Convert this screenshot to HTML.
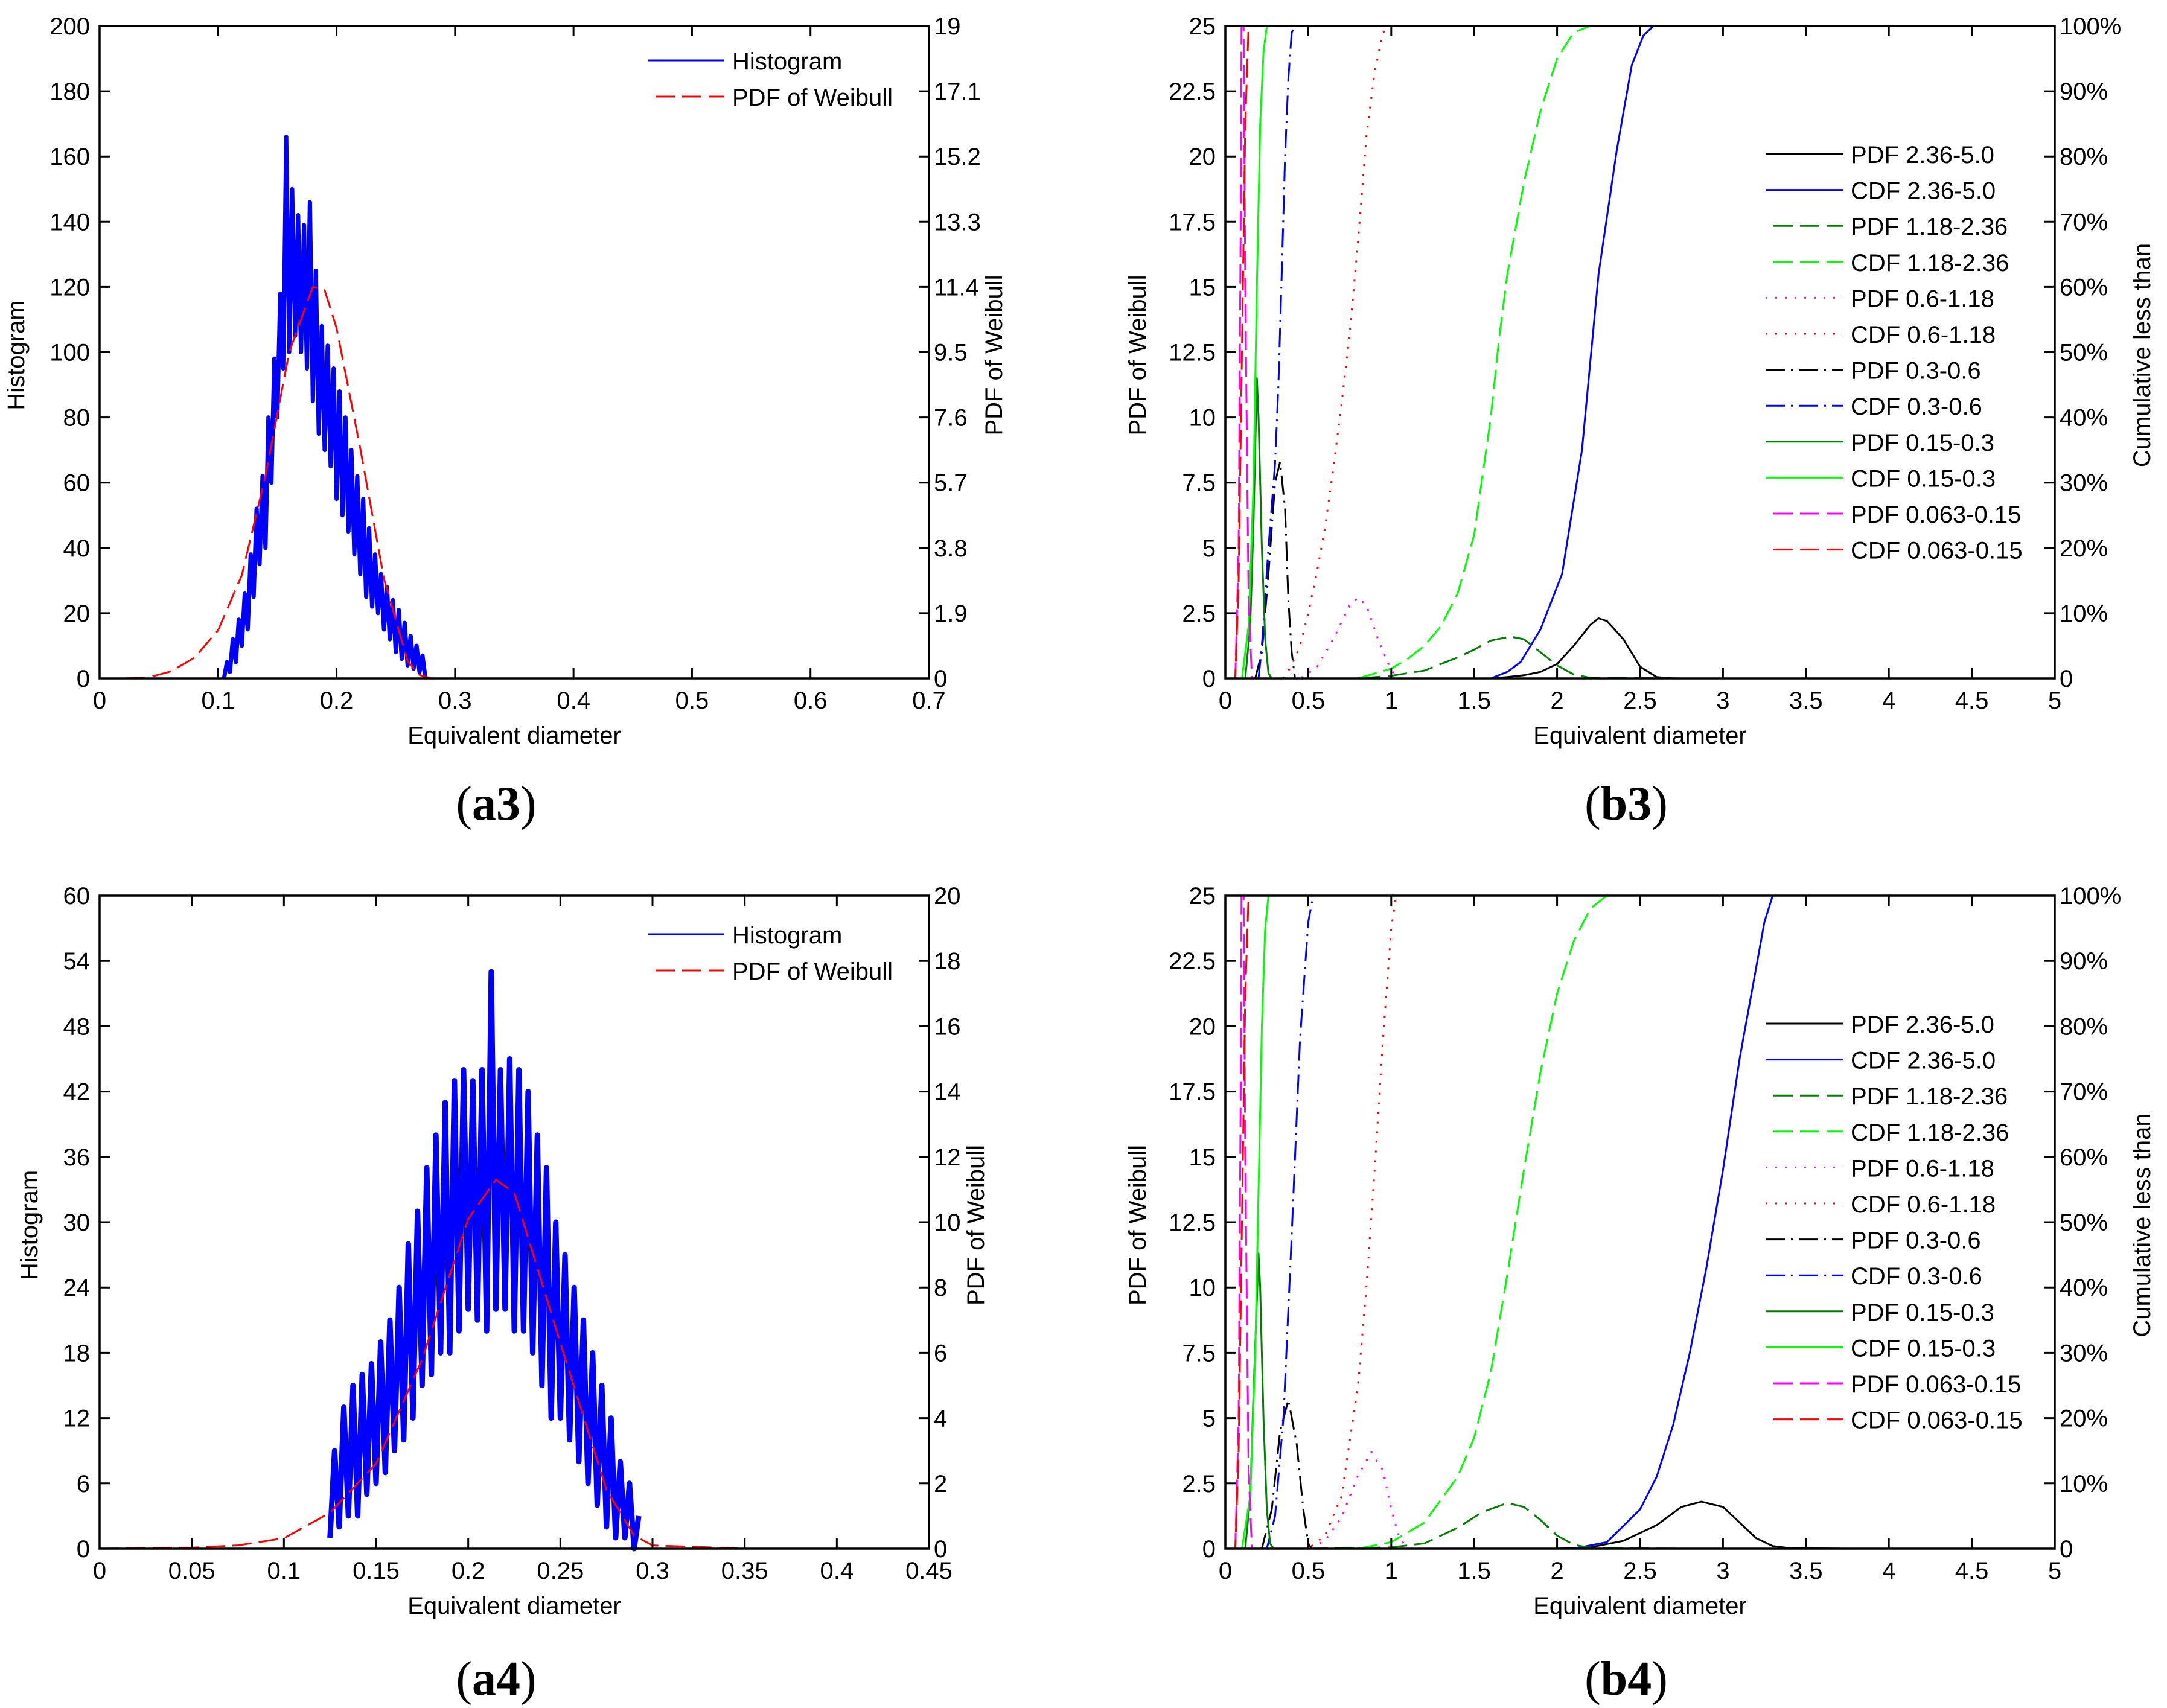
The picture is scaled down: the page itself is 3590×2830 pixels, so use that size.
<!DOCTYPE html>
<html><head><meta charset="utf-8">
<style>
html,body{margin:0;padding:0;background:#fff;}
svg{display:block;}
text{font-family:"Liberation Sans",sans-serif;}
</style></head>
<body>
<svg id="fig" width="3590" height="2830" viewBox="0 0 3590 2830" xmlns="http://www.w3.org/2000/svg">
<rect x="0" y="0" width="3590" height="2830" fill="#fff"/>
</svg>
<script>
// ---------- data: panel a3 ----------
const a3XTicks = [0,0.1,0.2,0.3,0.4,0.5,0.6,0.7];
const a3XTickLabels = ["0","0.1","0.2","0.3","0.4","0.5","0.6","0.7"];
const a3LeftTicks = [0,20,40,60,80,100,120,140,160,180,200];
const a3RightTicks = [0,1.9,3.8,5.7,7.6,9.5,11.4,13.3,15.2,17.1,19];
const a3RightTickLabels = ["0","1.9","3.8","5.7","7.6","9.5","11.4","13.3","15.2","17.1","19"];
const a3HistStart = 0.105;
const a3HistStep = 0.0025;
const a3HistCounts = [0,5,2,12,5,18,10,26,15,38,25,52,35,62,40,80,60,98,80,118,95,166,100,150,105,142,100,139,95,146,85,125,75,108,70,102,65,95,55,88,50,80,45,70,38,62,32,55,25,46,22,38,20,32,15,28,12,24,8,21,6,17,4,13,3,10,2,7,0];
const a3WeibX = [0,0.02,0.04,0.06,0.08,0.1,0.12,0.14,0.16,0.18,0.19,0.2,0.22,0.24,0.26,0.27,0.28,0.3,0.35,0.42];
const a3WeibY = [0,0,0.02,0.2,0.6,1.4,3.0,5.9,9.5,11.4,11.3,10.2,6.7,2.9,0.5,0.1,0,0,0,0];

// ---------- data: panel a4 ----------
const a4XTicks = [0,0.05,0.1,0.15,0.2,0.25,0.3,0.35,0.4,0.45];
const a4XTickLabels = ["0","0.05","0.1","0.15","0.2","0.25","0.3","0.35","0.4","0.45"];
const a4LeftTicks = [0,6,12,18,24,30,36,42,48,54,60];
const a4RightTicks = [0,2,4,6,8,10,12,14,16,18,20];
const a4RightTickLabels = ["0","2","4","6","8","10","12","14","16","18","20"];
const a4HistStart = 0.125;
const a4HistStep = 0.0025;
const a4HistCounts = [1,9,2,13,3,15,3,16,5,17,6,19,7,21,9,24,10,28,12,31,15,35,16,38,18,41,18,43,20,44,22,43,21,44,20,53,22,44,22,45,20,44,20,42,18,38,15,35,12,30,12,27,10,24,8,21,6,18,4,15,2,12,1,8,1,6,0,3];
const a4WeibX = [0,0.05,0.075,0.1,0.125,0.15,0.175,0.2,0.215,0.225,0.25,0.275,0.29,0.3,0.35,0.45];
const a4WeibY = [0,0.03,0.1,0.32,1.1,2.6,5.8,10.1,11.3,10.9,6.3,1.8,0.4,0.1,0,0];

// ---------- data: b panels ----------
const bXTicks = [0,0.5,1,1.5,2,2.5,3,3.5,4,4.5,5];
const bXTickLabels = ["0","0.5","1","1.5","2","2.5","3","3.5","4","4.5","5"];
const bLeftTicks = [0,2.5,5,7.5,10,12.5,15,17.5,20,22.5,25];
const bLeftTickLabels = ["0","2.5","5","7.5","10","12.5","15","17.5","20","22.5","25"];
const bRightTicks = [0,10,20,30,40,50,60,70,80,90,100];
const bRightTickLabels = ["0","10%","20%","30%","40%","50%","60%","70%","80%","90%","100%"];
const bLegendLabels = ["PDF 2.36-5.0","CDF 2.36-5.0","PDF 1.18-2.36","CDF 1.18-2.36","PDF 0.6-1.18","CDF 0.6-1.18","PDF 0.3-0.6","CDF 0.3-0.6","PDF 0.15-0.3","CDF 0.15-0.3","PDF 0.063-0.15","CDF 0.063-0.15"];

// b3 series (PDF in left units, CDF in percent)
const b3Pdf236X = [0.5,1.6,1.7,1.8,1.9,2.0,2.1,2.2,2.25,2.3,2.4,2.5,2.6,2.7,3.0];
const b3Pdf236Y = [0,0,0.05,0.12,0.25,0.55,1.25,2.05,2.3,2.2,1.5,0.45,0.05,0,0];
const b3Cdf236X = [0,1.6,1.7,1.78,1.9,2.03,2.15,2.25,2.36,2.45,2.52,2.58,2.7];
const b3Cdf236Y = [0,0,1,2.5,7.5,16,35,62,81,94,98.5,100,100];
const b3Pdf118X = [0.5,0.8,1.0,1.2,1.4,1.5,1.6,1.72,1.8,1.9,2.0,2.1,2.2,2.8];
const b3Pdf118Y = [0,0,0.1,0.3,0.8,1.1,1.45,1.6,1.5,1.0,0.5,0.15,0.02,0];
const b3Cdf118X = [0,0.8,1.0,1.1,1.2,1.3,1.4,1.5,1.6,1.65,1.7,1.8,1.9,2.0,2.1,2.2];
const b3Cdf118Y = [0,0,1.5,3,5,8,13,22,40,52,62,76,87,95,99,100];
const b3Pdf06X = [0.4,0.45,0.55,0.65,0.75,0.8,0.85,0.92,1.0,1.05];
const b3Pdf06Y = [0,0,0.4,1.5,2.8,3.1,2.8,1.5,0.3,0];
const b3Cdf06X = [0,0.35,0.4,0.45,0.5,0.55,0.6,0.65,0.7,0.75,0.8,0.85,0.9,0.95,1.0];
const b3Cdf06Y = [0,0,2,5,10,16,23,32,42,53,67,83,93,99,100];
const b3Pdf03X = [0.18,0.22,0.26,0.3,0.33,0.36,0.38,0.4,0.42];
const b3Pdf03Y = [0,1,4,7.5,8.3,6.5,3,1,0];
const b3Cdf03X = [0,0.2,0.22,0.26,0.3,0.32,0.34,0.36,0.38,0.4,0.42];
const b3Cdf03Y = [0,0,5,20,33,45,62,80,92,99,100];
const b3Pdf015X = [0.1,0.12,0.15,0.17,0.19,0.2,0.22,0.24,0.26,0.28];
const b3Pdf015Y = [0,0,2,6,11.5,10,5,1.5,0.2,0];
const b3Cdf015X = [0,0.1,0.14,0.17,0.19,0.21,0.23,0.25];
const b3Cdf015Y = [0,0,8,30,60,85,96,100];
const b3Pdf0063X = [0.04,0.06,0.08,0.095,0.1,0.11,0.12,0.14,0.16];
const b3Pdf0063Y = [0,0,5,20,30,25,15,3,0];
const b3Cdf0063X = [0,0.06,0.08,0.1,0.12,0.14];
const b3Cdf0063Y = [0,0,15,50,85,100];

// b4 series
const b4Pdf236X = [0.5,2.0,2.2,2.4,2.6,2.75,2.87,3.0,3.1,3.2,3.3,3.4,3.75];
const b4Pdf236Y = [0,0,0.05,0.3,0.9,1.6,1.8,1.6,1.0,0.4,0.1,0.02,0];
const b4Cdf236X = [0,2.1,2.3,2.5,2.6,2.7,2.8,2.9,3.0,3.1,3.2,3.25,3.3];
const b4Cdf236Y = [0,0,1,6,11,19,30,43,58,75,89,96,100];
const b4Pdf118X = [0.5,1.0,1.2,1.4,1.55,1.7,1.8,1.9,2.0,2.1,2.2,2.8];
const b4Pdf118Y = [0,0.05,0.2,0.8,1.4,1.75,1.6,1.1,0.5,0.15,0.03,0];
const b4Cdf118X = [0,0.8,1.0,1.2,1.4,1.5,1.6,1.7,1.8,1.9,2.0,2.1,2.2,2.3];
const b4Cdf118Y = [0,0,1,4,11,17,27,42,58,73,85,93,98,100];
const b4Pdf06X = [0.4,0.5,0.6,0.7,0.8,0.88,0.95,1.0,1.05,1.1];
const b4Pdf06Y = [0,0,0.3,1.2,2.8,3.7,3.0,1.5,0.4,0];
const b4Cdf06X = [0,0.5,0.6,0.7,0.8,0.85,0.9,0.95,1.0,1.03];
const b4Cdf06Y = [0,0,2,8,25,40,58,78,95,100];
const b4Pdf03X = [0.2,0.22,0.28,0.33,0.38,0.43,0.47,0.5,0.52];
const b4Pdf03Y = [0,0,1.5,4.5,5.7,4,1.5,0.2,0];
const b4Cdf03X = [0,0.25,0.3,0.35,0.4,0.45,0.5,0.53];
const b4Cdf03Y = [0,0,5,20,48,78,96,100];
const b4Pdf015X = [0.1,0.12,0.15,0.17,0.2,0.21,0.23,0.25,0.27,0.29];
const b4Pdf015Y = [0,0,2,6,11.3,10,5,1.5,0.2,0];
const b4Cdf015X = [0,0.1,0.15,0.18,0.2,0.22,0.24,0.26];
const b4Cdf015Y = [0,0,8,30,55,80,95,100];
const b4Pdf0063X = [0.04,0.06,0.08,0.095,0.1,0.11,0.12,0.14,0.16];
const b4Pdf0063Y = [0,0,5,20,30,25,15,3,0];
const b4Cdf0063X = [0,0.06,0.08,0.1,0.12,0.14];
const b4Cdf0063Y = [0,0,15,50,85,100];

// ---------- drawing ----------
const NS = "http://www.w3.org/2000/svg";
const svg = document.getElementById("fig");
const FS = 40;
function el(tag, attrs, parent) {
  const e = document.createElementNS(NS, tag);
  for (const k in attrs) e.setAttribute(k, attrs[k]);
  (parent || svg).appendChild(e);
  return e;
}
function txt(s, x, y, anchor, parent, extra) {
  const t = el("text", Object.assign({x: x, y: y, "font-size": FS, "text-anchor": anchor, fill: "#000"}, extra || {}), parent);
  t.textContent = s;
  return t;
}
const STY = {
  solid: "",
  dashed: "32 12",
  dotted: "3 13",
  dashdot: "32 10 3 10"
};
let clipId = 0;
function makePanel(name, box, xmin, xmax, lmax, rmax) {
  const g = el("g", {});
  
  
  const sx = v => box.x0 + (v - xmin) / (xmax - xmin) * (box.x1 - box.x0);
  const syL = v => box.y1 - v / lmax * (box.y1 - box.y0);
  const syR = v => box.y1 - v / rmax * (box.y1 - box.y0);
  clipId++;
  const cp = el("clipPath", {id: "clip" + clipId}, g);
  el("rect", {x: box.x0, y: box.y0, width: box.x1 - box.x0, height: box.y1 - box.y0 + 6}, cp);
  const plotG = el("g", {"clip-path": "url(#clip" + clipId + ")"}, g);
  
  
  return {g, plotG, sx, syL, syR, box};
}
function frame(P) {
  const b = P.box;
  const r = el("rect", {x: b.x0, y: b.y0, width: b.x1 - b.x0, height: b.y1 - b.y0, fill: "none", stroke: "#000", "stroke-width": 3.5}, P.g);
  
  
}
function xAxis(P, ticks, labels) {
  const b = P.box;
  const g = el("g", {}, P.g);
  
  
  ticks.forEach((t, i) => {
    const x = P.sx(t);
    el("line", {x1: x, y1: b.y1, x2: x, y2: b.y1 - 17, stroke: "#000", "stroke-width": 3}, g);
    el("line", {x1: x, y1: b.y0, x2: x, y2: b.y0 + 17, stroke: "#000", "stroke-width": 3}, g);
    const t2 = txt(labels[i], x, b.y1 + 50, "middle", g);
    
    
  });
  const xt = txt("Equivalent diameter", (b.x0 + b.x1) / 2, b.y1 + 108, "middle", g);
  
  
}
function yAxis(P, side, ticks, labels, scale, title, titleX) {
  const b = P.box;
  const g = el("g", {}, P.g);
  
  
  ticks.forEach((t, i) => {
    const y = scale(t);
    if (side === "left") {
      el("line", {x1: b.x0, y1: y, x2: b.x0 + 17, y2: y, stroke: "#000", "stroke-width": 3}, g);
      const l = txt(labels[i], b.x0 - 16, y + 14, "end", g);
      
      
    } else {
      el("line", {x1: b.x1, y1: y, x2: b.x1 - 17, y2: y, stroke: "#000", "stroke-width": 3}, g);
      const l = txt(labels[i], b.x1 + 8, y + 14, "start", g);
      
      
    }
  });
  const cy = (b.y0 + b.y1) / 2 + 5;
  const tt = txt(title, titleX, cy, "middle", g, {transform: "rotate(-90 " + titleX + " " + cy + ")"});
  
  
}
function line(P, xs, ys, scale, color, style, name, width) {
  const pts = xs.map((x, i) => P.sx(x).toFixed(1) + "," + scale(ys[i]).toFixed(1)).join(" ");
  const a = {points: pts, fill: "none", stroke: color, "stroke-width": width || 3, "stroke-linejoin": "round"};
  if (STY[style]) a["stroke-dasharray"] = STY[style];
  const pl = el("polyline", a, P.plotG);
  
  
  return pl;
}
function legendEntry(parent, x1, x2, tx, y, color, style, label, name) {
  const g = el("g", {}, parent);
  
  
  const a = {x1: style === "dashed" ? x1 + 13 : x1, y1: y, x2: x2, y2: y, stroke: color, "stroke-width": 3};
  if (STY[style]) a["stroke-dasharray"] = STY[style];
  el("line", a, g);
  txt(label, tx, y + 15, "start", g);
}
function caption(s, x, y) {
  const c = el("text", {x: x, y: y, "font-size": 80, "text-anchor": "middle", fill: "#000", style: 'font-family:"Liberation Serif",serif'});
  
  
  const t1 = el("tspan", {}, c); t1.textContent = "(";
  const t2 = el("tspan", {"font-weight": "bold"}, c); t2.textContent = s;
  const t3 = el("tspan", {}, c); t3.textContent = ")";
}

// ---- histogram panels ----
function histPanel(name, box, xmax, lmax, rmax, xt, xtl, lt, rt, rtl, start, step, counts, wx, wy, leftTitleX, rightTitleX, legY, hw) {
  const P = makePanel(name, box, 0, xmax, lmax, rmax);
  const hx = counts.map((c, i) => start + i * step);
  line(P, hx, counts, P.syL, "#0000ff", "solid", "histogram-line", hw);
  line(P, wx, wy, P.syR, "#ff0000", "dashed", "weibull-pdf-line", 3);
  frame(P);
  xAxis(P, xt, xtl);
  yAxis(P, "left", lt, lt.map(String), P.syL, "Histogram", leftTitleX);
  yAxis(P, "right", rt, rtl, P.syR, "PDF of Weibull", rightTitleX);
  const lg = el("g", {}, P.g);
  
  
  legendEntry(lg, box.x1 - 466, box.x1 - 339, box.x1 - 326, box.y0 + legY, "#0000ff", "solid", "Histogram", "legend-entry-histogram");
  legendEntry(lg, box.x1 - 466, box.x1 - 339, box.x1 - 326, box.y0 + legY + 60, "#ff0000", "dashed", "PDF of Weibull", "legend-entry-weibull");
}
histPanel("a3", {x0:165,x1:1539,y0:43,y1:1124}, 0.7, 200, 19, a3XTicks, a3XTickLabels, a3LeftTicks, a3RightTicks, a3RightTickLabels, a3HistStart, a3HistStep, a3HistCounts, a3WeibX, a3WeibY, 40, 1660, 57, 7);
histPanel("a4", {x0:165,x1:1539,y0:1484,y1:2566}, 0.45, 60, 20, a4XTicks, a4XTickLabels, a4LeftTicks, a4RightTicks, a4RightTickLabels, a4HistStart, a4HistStep, a4HistCounts, a4WeibX, a4WeibY, 62, 1630, 64, 9);

// ---- b panels ----
const bColors = ["#000000","#0000ff","#007f00","#00ff00","#ff00ff","#ff0000","#000000","#0000ff","#007f00","#00ff00","#ff00ff","#ff0000"];
const bStyles = ["solid","solid","dashed","dashed","dotted","dotted","dashdot","dashdot","solid","solid","dashed","dashed"];
function bPanel(name, box, series) {
  const P = makePanel(name, box, 0, 5, 25, 100);
  series.forEach((s, i) => {
    const isCdf = i % 2 === 1;
    line(P, s[0], s[1], isCdf ? P.syR : P.syL, bColors[i], bStyles[i], bLegendLabels[i].toLowerCase().replace(/[ .]/g, "-") + "-line", 3);
  });
  frame(P);
  xAxis(P, bXTicks, bXTickLabels);
  yAxis(P, "left", bLeftTicks, bLeftTickLabels, P.syL, "PDF of Weibull", box.x0 - 132);
  yAxis(P, "right", bRightTicks, bRightTickLabels, P.syR, "Cumulative less than", box.x1 + 158);
  const lg = el("g", {}, P.g);
  
  
  bLegendLabels.forEach((lab, i) => {
    legendEntry(lg, box.x0 + 895, box.x0 + 1024, box.x0 + 1036, box.y0 + 212 + i * 59.6, bColors[i], bStyles[i], lab, "legend-entry");
  });
}
bPanel("b3", {x0:2030,x1:3404,y0:43,y1:1124}, [
  [b3Pdf236X,b3Pdf236Y],[b3Cdf236X,b3Cdf236Y],[b3Pdf118X,b3Pdf118Y],[b3Cdf118X,b3Cdf118Y],
  [b3Pdf06X,b3Pdf06Y],[b3Cdf06X,b3Cdf06Y],[b3Pdf03X,b3Pdf03Y],[b3Cdf03X,b3Cdf03Y],
  [b3Pdf015X,b3Pdf015Y],[b3Cdf015X,b3Cdf015Y],[b3Pdf0063X,b3Pdf0063Y],[b3Cdf0063X,b3Cdf0063Y]]);
bPanel("b4", {x0:2030,x1:3404,y0:1484,y1:2566}, [
  [b4Pdf236X,b4Pdf236Y],[b4Cdf236X,b4Cdf236Y],[b4Pdf118X,b4Pdf118Y],[b4Cdf118X,b4Cdf118Y],
  [b4Pdf06X,b4Pdf06Y],[b4Cdf06X,b4Cdf06Y],[b4Pdf03X,b4Pdf03Y],[b4Cdf03X,b4Cdf03Y],
  [b4Pdf015X,b4Pdf015Y],[b4Cdf015X,b4Cdf015Y],[b4Pdf0063X,b4Pdf0063Y],[b4Cdf0063X,b4Cdf0063Y]]);

caption("a3", 822, 1358);
caption("b3", 2694, 1358);
caption("a4", 822, 2808);
caption("b4", 2694, 2808);
</script>
</body></html>
